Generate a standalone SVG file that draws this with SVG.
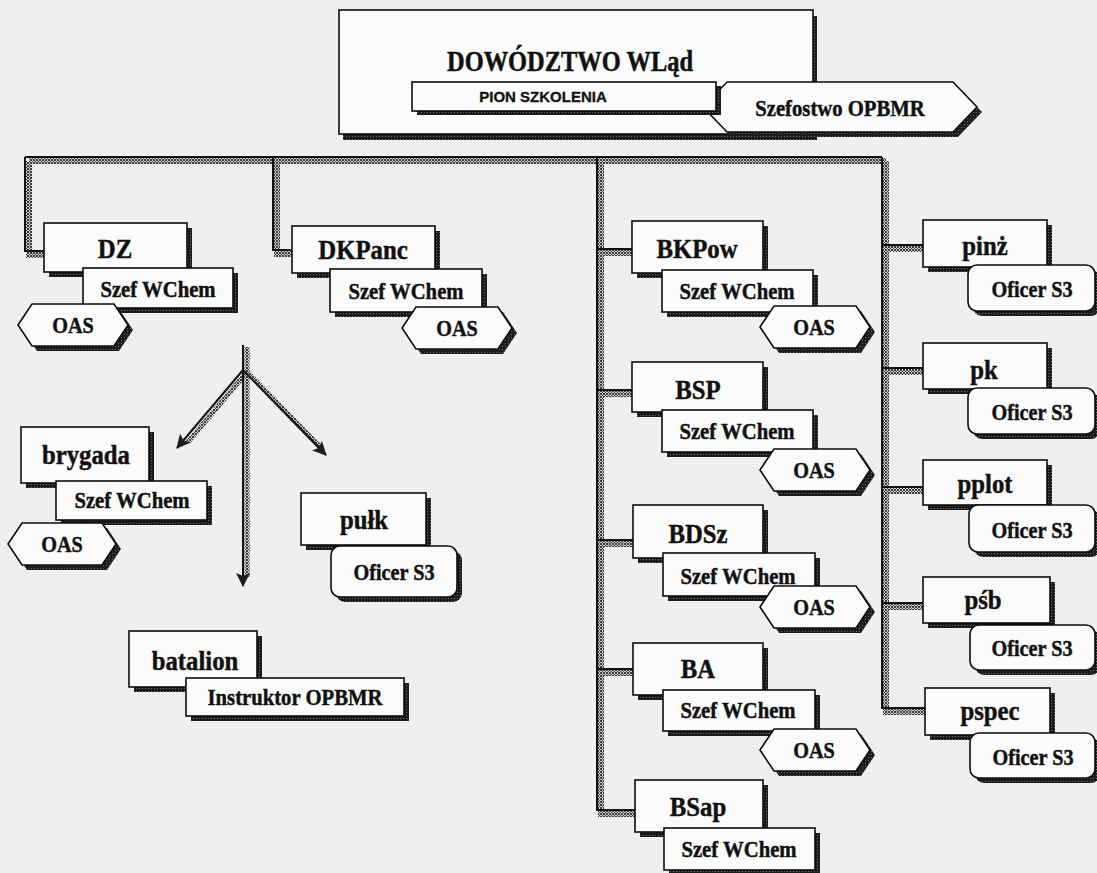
<svg xmlns="http://www.w3.org/2000/svg" width="1097" height="873" viewBox="0 0 1097 873">
  <defs>
    <!-- dark grainy fill for drop shadows -->
    <pattern id="shade" width="3" height="3" patternUnits="userSpaceOnUse">
      <rect width="3" height="3" fill="#1c1c1c"/>
      <rect x="1" y="1" width="1" height="1" fill="#6a6a6a"/>
    </pattern>
    <!-- dithered grey used as the shadow of connector lines -->
    <pattern id="hatch" width="3" height="3" patternUnits="userSpaceOnUse">
      <rect width="3" height="3" fill="#cfcfcf"/>
      <rect x="0" y="0" width="1" height="1" fill="#3a3a3a"/>
      <rect x="2" y="0" width="1" height="1" fill="#3a3a3a"/>
      <rect x="1" y="1" width="1" height="1" fill="#3a3a3a"/>
      <rect x="0" y="2" width="1" height="1" fill="#3a3a3a"/>
      <rect x="2" y="2" width="1" height="1" fill="#3a3a3a"/>
    </pattern>
    <marker id="ah" markerWidth="16" markerHeight="14" refX="13" refY="7" orient="auto" markerUnits="userSpaceOnUse">
      <path d="M0,0 L14,7 L0,14 L3,7 Z" fill="#1e1e1e"/>
    </marker>
    <style>
      .bx{fill:#fbfbfb;stroke:#0d0d0d;stroke-width:1.6}
      .sd{fill:url(#shade)}
      .ln{fill:none;stroke:#111;stroke-width:2}
      .hl{fill:none;stroke:url(#hatch);stroke-width:6}
      .tx{font-family:"Liberation Serif","Times New Roman",serif;font-weight:bold;fill:#111;stroke:#111;stroke-width:0.45;text-anchor:middle;
          transform-box:fill-box;transform-origin:center;transform:scaleX(0.9)}
      .title{font-family:"Liberation Serif","Times New Roman",serif;font-weight:bold;fill:#111;stroke:#111;stroke-width:0.5;text-anchor:middle;font-size:30px}
      .sans{font-family:"Liberation Sans",Arial,sans-serif;font-weight:bold;fill:#111;stroke:#111;stroke-width:0.3;text-anchor:middle;font-size:15px}
      .f25{font-size:27.5px}
      .f21{font-size:23px}
      .f20{font-size:22.5px}
    </style>
  </defs>

  <rect width="1097" height="873" fill="#efefef"/>

  <!-- connectors -->
  <g id="connectors">
    <g class="hl" transform="translate(4,4)">
      <path d="M25,157 H882"/>
      <path d="M25,157 V251 H44"/>
      <path d="M273,157 V250 H292"/>
      <path d="M597,157 V810 H635"/>
      <path d="M597,249 H632 M597,390 H632 M597,540 H633 M597,669 H633"/>
      <path d="M882,157 V708 H925"/>
      <path d="M882,245 H923 M882,368 H923 M882,487 H923 M882,603 H923"/>
    </g>
    <g class="ln">
      <path d="M25,157 H882"/>
      <path d="M25,157 V251 H44"/>
      <path d="M273,157 V250 H292"/>
      <path d="M597,157 V810 H635"/>
      <path d="M597,249 H632 M597,390 H632 M597,540 H633 M597,669 H633"/>
      <path d="M882,157 V708 H925"/>
      <path d="M882,245 H923 M882,368 H923 M882,487 H923 M882,603 H923"/>
    </g>
    <!-- arrows towards the lower units -->
    <g fill="none" stroke="url(#hatch)" stroke-width="5" transform="translate(4,2)">
      <path d="M243,345 V575"/>
      <path d="M243,370 L184,440"/>
      <path d="M243,370 L318,447"/>
    </g>
    <g class="ln" stroke-width="1.8">
      <path d="M243,345 V586" marker-end="url(#ah)"/>
      <path d="M243,370 L177,448" marker-end="url(#ah)"/>
      <path d="M243,370 L326,455" marker-end="url(#ah)"/>
    </g>
  </g>

  <!-- headquarters -->
  <g id="n-dowodztwo">
    <rect class="sd" x="343" y="16" width="474" height="124"/>
    <rect class="bx" x="339" y="10" width="474" height="124"/>
    <text class="title" x="570" y="71" textLength="246" lengthAdjust="spacingAndGlyphs">DOWÓDZTWO WLąd</text>
  </g>
  <g id="n-szefostwo">
    <polygon class="sd" points="708,112 732,87 958,87 982,112 958,137 732,137"/>
    <polygon class="bx" points="703,107 727,82 953,82 977,107 953,132 727,132"/>
    <text class="tx f21" x="840" y="116">Szefostwo OPBMR</text>
  </g>
  <g id="n-pion">
    <rect class="sd" x="417" y="86" width="304" height="29"/>
    <rect class="bx" x="412" y="82" width="304" height="29"/>
    <text class="sans" x="543" y="102">PION SZKOLENIA</text>
  </g>

  <!-- DZ -->
  <g id="n-dz">
    <rect class="sd" x="49" y="228" width="143" height="49"/>
    <rect class="bx" x="44" y="223" width="143" height="49"/>
    <text class="tx f25" x="115" y="258">DZ</text>
  </g>
  <g id="n-dz-szef">
    <rect class="sd" x="88" y="273" width="150" height="40"/>
    <rect class="bx" x="83" y="268" width="150" height="40"/>
    <text class="tx f21" x="158" y="297">Szef WChem</text>
  </g>
  <g id="n-dz-oas">
    <polygon class="sd" points="23,330 37,309 119,309 133,330 119,351 37,351"/>
    <polygon class="bx" points="18,325 32,304 114,304 128,325 114,346 32,346"/>
    <text class="tx f20" x="73" y="333">OAS</text>
  </g>

  <!-- DKPanc -->
  <g id="n-dkpanc">
    <rect class="sd" x="297" y="231" width="143" height="47"/>
    <rect class="bx" x="292" y="226" width="143" height="47"/>
    <text class="tx f25" x="363" y="259">DKPanc</text>
  </g>
  <g id="n-dkpanc-szef">
    <rect class="sd" x="335" y="274" width="152" height="43"/>
    <rect class="bx" x="330" y="269" width="152" height="43"/>
    <text class="tx f21" x="406" y="299">Szef WChem</text>
  </g>
  <g id="n-dkpanc-oas">
    <polygon class="sd" points="407,333 421,312 503,312 517,333 503,354 421,354"/>
    <polygon class="bx" points="402,328 416,307 498,307 512,328 498,349 416,349"/>
    <text class="tx f20" x="457" y="336">OAS</text>
  </g>

  <!-- brygada -->
  <g id="n-brygada">
    <rect class="sd" x="26" y="432" width="128" height="56"/>
    <rect class="bx" x="21" y="427" width="128" height="56"/>
    <text class="tx f25" x="86" y="464">brygada</text>
  </g>
  <g id="n-brygada-szef">
    <rect class="sd" x="61" y="486" width="151" height="39"/>
    <rect class="bx" x="56" y="481" width="151" height="39"/>
    <text class="tx f21" x="132" y="508">Szef WChem</text>
  </g>
  <g id="n-brygada-oas">
    <polygon class="sd" points="13,549 27,528 107,528 121,549 107,570 27,570"/>
    <polygon class="bx" points="8,544 22,523 102,523 116,544 102,565 22,565"/>
    <text class="tx f20" x="62" y="552">OAS</text>
  </g>

  <!-- pułk -->
  <g id="n-pulk">
    <rect class="sd" x="306" y="498" width="125" height="52"/>
    <rect class="bx" x="301" y="493" width="125" height="52"/>
    <text class="tx f25" x="364" y="529">pułk</text>
  </g>
  <g id="n-pulk-s3">
    <rect class="sd" x="336" y="551" width="126" height="51" rx="9"/>
    <rect class="bx" x="331" y="546" width="126" height="51" rx="9"/>
    <text class="tx f20" x="394" y="580">Oficer S3</text>
  </g>

  <!-- batalion -->
  <g id="n-batalion">
    <rect class="sd" x="134" y="636" width="128" height="56"/>
    <rect class="bx" x="129" y="631" width="128" height="56"/>
    <text class="tx f25" x="195" y="670">batalion</text>
  </g>
  <g id="n-batalion-instr">
    <rect class="sd" x="191" y="683" width="218" height="38"/>
    <rect class="bx" x="186" y="678" width="218" height="38"/>
    <text class="tx f21" x="295" y="705">Instruktor OPBMR</text>
  </g>

  <!-- BKPow -->
  <g id="n-bkpow">
    <rect class="sd" x="637" y="226" width="131" height="52"/>
    <rect class="bx" x="632" y="221" width="131" height="52"/>
    <text class="tx f25" x="697" y="258">BKPow</text>
  </g>
  <g id="n-bkpow-szef">
    <rect class="sd" x="667" y="275" width="151" height="42"/>
    <rect class="bx" x="662" y="270" width="151" height="42"/>
    <text class="tx f21" x="737" y="299">Szef WChem</text>
  </g>
  <g id="n-bkpow-oas">
    <polygon class="sd" points="765,332 779,311 861,311 875,332 861,353 779,353"/>
    <polygon class="bx" points="760,327 774,306 856,306 870,327 856,348 774,348"/>
    <text class="tx f20" x="814" y="335">OAS</text>
  </g>

  <!-- BSP -->
  <g id="n-bsp">
    <rect class="sd" x="637" y="367" width="131" height="50"/>
    <rect class="bx" x="632" y="362" width="131" height="50"/>
    <text class="tx f25" x="698" y="399">BSP</text>
  </g>
  <g id="n-bsp-szef">
    <rect class="sd" x="667" y="415" width="151" height="42"/>
    <rect class="bx" x="662" y="410" width="151" height="42"/>
    <text class="tx f21" x="737" y="439">Szef WChem</text>
  </g>
  <g id="n-bsp-oas">
    <polygon class="sd" points="765,475 779,454 861,454 875,475 861,496 779,496"/>
    <polygon class="bx" points="760,470 774,449 856,449 870,470 856,491 774,491"/>
    <text class="tx f20" x="814" y="478">OAS</text>
  </g>

  <!-- BDSz -->
  <g id="n-bdsz">
    <rect class="sd" x="638" y="510" width="130" height="53"/>
    <rect class="bx" x="633" y="505" width="130" height="53"/>
    <text class="tx f25" x="698" y="543">BDSz</text>
  </g>
  <g id="n-bdsz-szef">
    <rect class="sd" x="668" y="558" width="152" height="43"/>
    <rect class="bx" x="663" y="553" width="152" height="43"/>
    <text class="tx f21" x="738" y="584">Szef WChem</text>
  </g>
  <g id="n-bdsz-oas">
    <polygon class="sd" points="765,612 779,591 861,591 875,612 861,633 779,633"/>
    <polygon class="bx" points="760,607 774,586 856,586 870,607 856,628 774,628"/>
    <text class="tx f20" x="814" y="615">OAS</text>
  </g>

  <!-- BA -->
  <g id="n-ba">
    <rect class="sd" x="638" y="648" width="130" height="52"/>
    <rect class="bx" x="633" y="643" width="130" height="52"/>
    <text class="tx f25" x="698" y="678">BA</text>
  </g>
  <g id="n-ba-szef">
    <rect class="sd" x="668" y="695" width="152" height="41"/>
    <rect class="bx" x="663" y="690" width="152" height="41"/>
    <text class="tx f21" x="738" y="718">Szef WChem</text>
  </g>
  <g id="n-ba-oas">
    <polygon class="sd" points="765,755 779,734 861,734 875,755 861,776 779,776"/>
    <polygon class="bx" points="760,750 774,729 856,729 870,750 856,771 774,771"/>
    <text class="tx f20" x="814" y="758">OAS</text>
  </g>

  <!-- BSap -->
  <g id="n-bsap">
    <rect class="sd" x="640" y="785" width="128" height="52"/>
    <rect class="bx" x="635" y="780" width="128" height="52"/>
    <text class="tx f25" x="698" y="816">BSap</text>
  </g>
  <g id="n-bsap-szef">
    <rect class="sd" x="669" y="833" width="151" height="42"/>
    <rect class="bx" x="664" y="828" width="151" height="42"/>
    <text class="tx f21" x="739" y="857">Szef WChem</text>
  </g>

  <!-- regiments -->
  <g id="n-pinz">
    <rect class="sd" x="928" y="225" width="124" height="47"/>
    <rect class="bx" x="923" y="220" width="124" height="47"/>
    <text class="tx f25" x="985" y="255">pinż</text>
  </g>
  <g id="n-pinz-s3">
    <rect class="sd" x="973" y="270" width="127" height="46" rx="9"/>
    <rect class="bx" x="968" y="265" width="127" height="46" rx="9"/>
    <text class="tx f20" x="1032" y="297">Oficer S3</text>
  </g>
  <g id="n-pk">
    <rect class="sd" x="928" y="348" width="124" height="46"/>
    <rect class="bx" x="923" y="343" width="124" height="46"/>
    <text class="tx f25" x="984" y="379">pk</text>
  </g>
  <g id="n-pk-s3">
    <rect class="sd" x="973" y="393" width="127" height="46" rx="9"/>
    <rect class="bx" x="968" y="388" width="127" height="46" rx="9"/>
    <text class="tx f20" x="1032" y="420">Oficer S3</text>
  </g>
  <g id="n-pplot">
    <rect class="sd" x="928" y="465" width="124" height="45"/>
    <rect class="bx" x="923" y="460" width="124" height="45"/>
    <text class="tx f25" x="985" y="493">pplot</text>
  </g>
  <g id="n-pplot-s3">
    <rect class="sd" x="974" y="510" width="126" height="47" rx="9"/>
    <rect class="bx" x="969" y="505" width="126" height="47" rx="9"/>
    <text class="tx f20" x="1032" y="538">Oficer S3</text>
  </g>
  <g id="n-psb">
    <rect class="sd" x="928" y="582" width="127" height="46"/>
    <rect class="bx" x="923" y="577" width="127" height="46"/>
    <text class="tx f25" x="983" y="609">pśb</text>
  </g>
  <g id="n-psb-s3">
    <rect class="sd" x="975" y="630" width="125" height="45" rx="9"/>
    <rect class="bx" x="970" y="625" width="125" height="45" rx="9"/>
    <text class="tx f20" x="1032" y="656">Oficer S3</text>
  </g>
  <g id="n-pspec">
    <rect class="sd" x="930" y="693" width="125" height="47"/>
    <rect class="bx" x="925" y="688" width="125" height="47"/>
    <text class="tx f25" x="990" y="720">pspec</text>
  </g>
  <g id="n-pspec-s3">
    <rect class="sd" x="975" y="738" width="125" height="45" rx="9"/>
    <rect class="bx" x="970" y="733" width="125" height="45" rx="9"/>
    <text class="tx f20" x="1033" y="765">Oficer S3</text>
  </g>
</svg>
